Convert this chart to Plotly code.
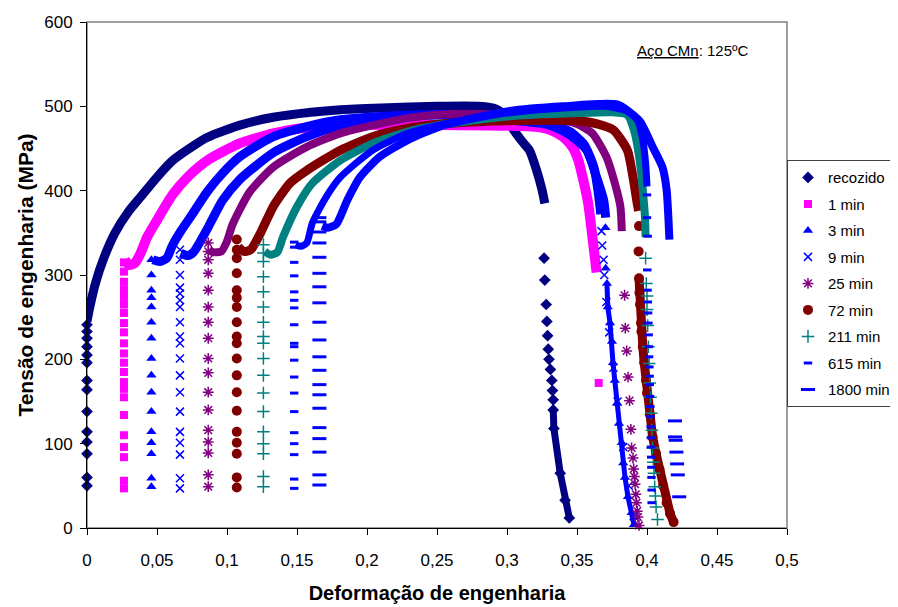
import plotly.graph_objects as go

# ---------------- data ----------------
series_names = ["recozido", "1 min", "3 min", "9 min", "25 min", "72 min", "211 min", "615 min", "1800 min"]
x_tick_vals = [0, 0.05, 0.1, 0.15, 0.2, 0.25, 0.3, 0.35, 0.4, 0.45, 0.5]
x_tick_text = ["0", "0,05", "0,1", "0,15", "0,2", "0,25", "0,3", "0,35", "0,4", "0,45", "0,5"]
y_tick_vals = [0, 100, 200, 300, 400, 500, 600]

# recozido
rec_el_x = 0.0
rec_el_y = [50, 60, 88, 102, 114, 138, 164, 175, 196, 205, 215, 225, 233, 241]
rec_curve_x = [0.0, 0.002, 0.006, 0.012, 0.02, 0.03, 0.038, 0.05, 0.0614, 0.0857, 0.11, 0.133, 0.16, 0.181, 0.21, 0.25, 0.28, 0.292, 0.299, 0.304, 0.31, 0.316, 0.321, 0.325, 0.327]
rec_curve_y = [245, 262, 290, 320, 350, 376, 392, 416, 436, 463, 478, 487, 493, 496, 498, 500, 500, 497, 489, 474, 460, 448, 425, 401, 385]
rec_tail_x = [0.3265, 0.327, 0.328, 0.3285, 0.329, 0.3295, 0.330, 0.331, 0.332, 0.3325, 0.333]
rec_tail_y = [320, 294, 265, 245, 228, 212, 200, 188, 175, 163, 152]
rec_drop_x = [0.333, 0.3335, 0.338, 0.3415, 0.3445]
rec_drop_y = [140, 118, 65, 33, 12]

# 1 min
m1_el_x = 0.0264
m1_el_y = [47, 56, 84, 96, 110, 134, 155, 165, 173, 185, 196, 207, 219, 232, 243, 255, 265, 274, 283, 292, 304, 315]
m1_curve_x = [0.027, 0.03, 0.034, 0.038, 0.043, 0.05, 0.061, 0.073, 0.086, 0.109, 0.133, 0.157, 0.2, 0.25, 0.3, 0.324, 0.335, 0.342, 0.347, 0.351, 0.354, 0.358, 0.361, 0.364]
m1_curve_y = [318, 312, 314, 325, 345, 365, 395, 418, 436, 456, 468, 475, 478, 478, 477, 475, 469, 461, 451, 436, 416, 385, 345, 303]
m1_tail_x = [0.3655]
m1_tail_y = [172]

# 3 min
m3_el_x = 0.046
m3_el_y = [49, 59, 88, 101, 114, 138, 161, 181, 201, 225, 244, 262, 273, 282, 300, 318]
m3_curve_x = [0.047, 0.052, 0.057, 0.061, 0.067, 0.074, 0.086, 0.097, 0.109, 0.133, 0.157, 0.181, 0.21, 0.252, 0.3, 0.33, 0.345, 0.357, 0.364, 0.369, 0.3705]
m3_curve_y = [318, 316, 320, 335, 352, 369, 399, 421, 440, 464, 476, 484, 488, 490, 484, 478, 466, 448, 416, 389, 368]
m3_tail_x = [0.3703, 0.3705]
m3_tail_y = [356, 308]
m3_drop_x = [0.3714, 0.372, 0.3736, 0.375, 0.3757, 0.377, 0.3786, 0.38, 0.382, 0.383, 0.3843, 0.3864, 0.389, 0.3907]
m3_drop_y = [290, 262, 243, 221, 196, 175, 148, 124, 101, 77, 60, 37, 18, 4]

# 9 min
m9_el_x = 0.0664
m9_el_y = [47, 59, 87, 101, 114, 138, 161, 181, 201, 219, 227, 244, 262, 270, 278, 285, 300, 318, 330]
m9_curve_x = [0.067, 0.072, 0.076, 0.081, 0.086, 0.097, 0.109, 0.133, 0.157, 0.181, 0.204, 0.252, 0.3, 0.33, 0.345, 0.355, 0.362, 0.365, 0.367]
m9_curve_y = [326, 323, 327, 340, 355, 389, 413, 445, 464, 477, 484, 490, 486, 480, 470, 455, 428, 400, 372]
m9_tail_x = [0.3675, 0.368, 0.369, 0.3695, 0.371, 0.373, 0.376, 0.379, 0.383, 0.387, 0.3905]
m9_tail_y = [352, 335, 318, 300, 268, 232, 190, 150, 96, 50, 14]

# 25 min
m25_el_x = 0.0866
m25_el_y = [49, 63, 89, 102, 116, 140, 161, 184, 201, 225, 244, 262, 282, 302, 318, 328, 338]
m25_curve_x = [0.087, 0.09, 0.096, 0.1, 0.104, 0.116, 0.133, 0.157, 0.181, 0.229, 0.26, 0.3, 0.33, 0.35, 0.361, 0.371, 0.377, 0.381, 0.382]
m25_curve_y = [330, 327, 328, 340, 360, 398, 428, 452, 468, 486, 491, 490, 486, 479, 468, 440, 409, 381, 352]
m25_tail_x = [0.384, 0.3845, 0.3855, 0.3865, 0.3875, 0.3885, 0.389, 0.39, 0.3905, 0.391, 0.3915, 0.392, 0.3925, 0.393, 0.3935, 0.3943]
m25_tail_y = [276, 237, 210, 179, 151, 117, 95, 83, 70, 61, 52, 40, 30, 20, 13, 3]

# 72 min
m72_el_x = 0.107
m72_el_y = [48, 60, 88, 101, 114, 139, 161, 181, 201, 219, 227, 244, 262, 273, 282, 302, 320, 330, 342]
m72_curve_x = [0.108, 0.112, 0.117, 0.124, 0.133, 0.145, 0.157, 0.181, 0.204, 0.229, 0.252, 0.3, 0.35, 0.365, 0.376, 0.386, 0.39, 0.393, 0.394]
m72_curve_y = [333, 328, 330, 350, 381, 409, 424, 448, 464, 474, 479, 483, 483, 479, 472, 448, 416, 385, 376]
m72_tail_x = [0.3943, 0.394]
m72_tail_y = [358, 328]
m72_drop_x = [0.3943, 0.3946, 0.395, 0.3957, 0.396, 0.397, 0.398, 0.3993, 0.4, 0.402, 0.404, 0.4065, 0.409, 0.4115, 0.414, 0.4165, 0.419]
m72_drop_y = [296, 279, 265, 243, 233, 215, 196, 175, 160, 135, 108, 88, 69, 50, 30, 17, 7]

# 211 min
m211_el_x = 0.126
m211_el_y = [49, 61, 88, 100, 114, 138, 160, 181, 201, 219, 227, 244, 262, 280, 298, 316, 326, 336]
m211_curve_x = [0.127, 0.131, 0.136, 0.14, 0.15, 0.161, 0.181, 0.204, 0.229, 0.252, 0.3, 0.35, 0.375, 0.386, 0.391, 0.395, 0.397, 0.3985, 0.399]
m211_curve_y = [328, 324, 327, 345, 381, 409, 436, 456, 470, 478, 488, 492, 493, 490, 470, 433, 401, 370, 345]
m211_tail_x = [0.399, 0.3995, 0.4, 0.4, 0.4005, 0.401, 0.4015, 0.402, 0.4025, 0.403, 0.4035, 0.404, 0.4045, 0.405, 0.4055, 0.406, 0.4065, 0.4075]
m211_tail_y = [320, 290, 275, 259, 240, 215, 195, 172, 155, 136, 116, 95, 78, 65, 49, 38, 25, 10]

# 615 min
m615_el_x = 0.148
m615_el_y = [47, 58, 87, 100, 113, 138, 160, 179, 199, 215, 219, 241, 261, 270, 280, 299, 315, 333, 339]
m615_curve_x = [0.149, 0.153, 0.157, 0.161, 0.171, 0.181, 0.204, 0.229, 0.252, 0.3, 0.34, 0.37, 0.385, 0.393, 0.397, 0.399, 0.4]
m615_curve_y = [336, 334, 338, 362, 393, 416, 448, 468, 478, 492, 498, 500, 495, 484, 460, 433, 405]
m615_tail_x = [0.4, 0.4, 0.4005, 0.4002, 0.4004, 0.4006, 0.4008, 0.401, 0.4012, 0.4014, 0.4015, 0.4017, 0.4019, 0.402, 0.4022, 0.4024, 0.4025, 0.4026, 0.4027, 0.4028, 0.403, 0.4031, 0.4032, 0.4033, 0.4033]
m615_tail_y = [395, 368, 346, 306, 282, 268, 255, 243, 229, 215, 203, 191, 180, 170, 156, 144, 132, 120, 107, 96, 84, 72, 60, 45, 30]

# 1800 min
m1800_el_x = 0.166
m1800_el_y = [51, 63, 90, 106, 119, 142, 158, 170, 187, 203, 223, 244, 267, 286, 302, 321, 338, 351, 363, 368]
m1800_curve_x = [0.168, 0.172, 0.178, 0.186, 0.195, 0.209, 0.229, 0.252, 0.3, 0.34, 0.379, 0.395, 0.404, 0.411, 0.414, 0.416]
m1800_curve_y = [358, 356, 360, 389, 416, 440, 460, 476, 494, 500, 502, 482, 452, 428, 401, 342]
m1800_tail_x = [0.42, 0.42, 0.4205, 0.421, 0.4215, 0.422, 0.423]
m1800_tail_y = [127, 108, 104, 90, 76, 63, 37]

# ---------------- styling ----------------
colors = ["#000080", "#FF00FF", "#0000FF", "#0000FF", "#800080", "#800000", "#008080", "#0000FF", "#0000FF"]
symbols = ["diamond", "square", "triangle-up", "x-thin-open", "asterisk-open", "circle", "cross-thin-open", "line-ew-open", "line-ew-open"]
msizes = [9, 8, 9, 8, 9, 10, 9, 6, 10]
mlines = [0, 0, 0, 1.5, 1.5, 0, 1.5, 3, 3]
band_w = [9, 10, 9, 9, 8, 9, 8, 7, 8]

el_x = [rec_el_x, m1_el_x, m3_el_x, m9_el_x, m25_el_x, m72_el_x, m211_el_x, m615_el_x, m1800_el_x]
el_y = [rec_el_y, m1_el_y, m3_el_y, m9_el_y, m25_el_y, m72_el_y, m211_el_y, m615_el_y, m1800_el_y]
curve_x = [rec_curve_x, m1_curve_x, m3_curve_x, m9_curve_x, m25_curve_x, m72_curve_x, m211_curve_x, m615_curve_x, m1800_curve_x]
curve_y = [rec_curve_y, m1_curve_y, m3_curve_y, m9_curve_y, m25_curve_y, m72_curve_y, m211_curve_y, m615_curve_y, m1800_curve_y]
tail_x = [rec_tail_x, m1_tail_x, m3_tail_x, m9_tail_x, m25_tail_x, m72_tail_x, m211_tail_x, m615_tail_x, m1800_tail_x]
tail_y = [rec_tail_y, m1_tail_y, m3_tail_y, m9_tail_y, m25_tail_y, m72_tail_y, m211_tail_y, m615_tail_y, m1800_tail_y]
drops = {0: (rec_drop_x, rec_drop_y, 7), 2: (m3_drop_x, m3_drop_y, 5), 5: (m72_drop_x, m72_drop_y, 9)}

fig = go.Figure()
for i, name in enumerate(series_names):
    c = colors[i]
    grp = "g%d" % i
    fig.add_trace(go.Scatter(
        x=curve_x[i], y=curve_y[i], mode="lines",
        line=dict(color=c, width=band_w[i], shape="spline", smoothing=0.6),
        legendgroup=grp, showlegend=False, hoverinfo="skip", cliponaxis=False))
    if i in drops:
        dx, dy, w = drops[i]
        fig.add_trace(go.Scatter(
            x=dx, y=dy, mode="lines+markers",
            line=dict(color=c, width=w),
            marker=dict(symbol=symbols[i], size=msizes[i], color=c,
                        line=dict(color=c, width=mlines[i])),
            legendgroup=grp, showlegend=False, hoverinfo="skip", cliponaxis=False))
    mx = [el_x[i]] * len(el_y[i]) + tail_x[i]
    my = el_y[i] + tail_y[i]
    fig.add_trace(go.Scatter(
        x=mx, y=my, mode="markers", name=name,
        marker=dict(symbol=symbols[i], size=msizes[i], color=c,
                    line=dict(color=c, width=mlines[i])),
        legendgroup=grp, showlegend=True, cliponaxis=False))

font_fam = "Arial, Liberation Sans, sans-serif"
# the page body adds an 8px offset, so margins are reduced by 8px on left/top
fig.update_layout(
    width=898, height=607,
    margin=dict(l=79, r=119, t=14, b=87, autoexpand=False),
    paper_bgcolor="white", plot_bgcolor="white",
    font=dict(family=font_fam, color="black"),
    legend=dict(
        x=1.1557, xanchor="right", y=0.727, yanchor="top",
        bordercolor="#404040", borderwidth=1, bgcolor="white",
        font=dict(size=15, family=font_fam), tracegroupgap=4,
        traceorder="grouped",
    ),
    xaxis=dict(
        range=[0, 0.5], tickvals=x_tick_vals, ticktext=x_tick_text,
        showline=True, linecolor="black", linewidth=1, ticks="outside", ticklen=6,
        tickcolor="black", showgrid=False, zeroline=False, automargin=False,
        tickfont=dict(size=17), ticklabelstandoff=11,
        title=dict(text="<b>Deformação de engenharia</b>", font=dict(size=20), standoff=16),
    ),
    yaxis=dict(
        range=[0, 600], tickvals=y_tick_vals,
        showline=True, linecolor="black", linewidth=1, ticks="outside", ticklen=6,
        tickcolor="black", showgrid=False, zeroline=False, automargin=False,
        tickfont=dict(size=17), ticklabelstandoff=4,
        title=dict(text="<b>Tensão de engenharia (MPa)</b>", font=dict(size=21), standoff=4),
    ),
    shapes=[dict(type="rect", xref="paper", yref="paper", x0=0, y0=0, x1=1, y1=1,
                 line=dict(color="#808080", width=1.5), layer="below")],
    annotations=[dict(text="<u>Aço CMn</u>: 125ºC", xref="paper", yref="paper",
                      x=0.866, y=0.943, xanchor="center", yanchor="middle",
                      showarrow=False, font=dict(size=15))],
)

fig.write_html("out.html")
